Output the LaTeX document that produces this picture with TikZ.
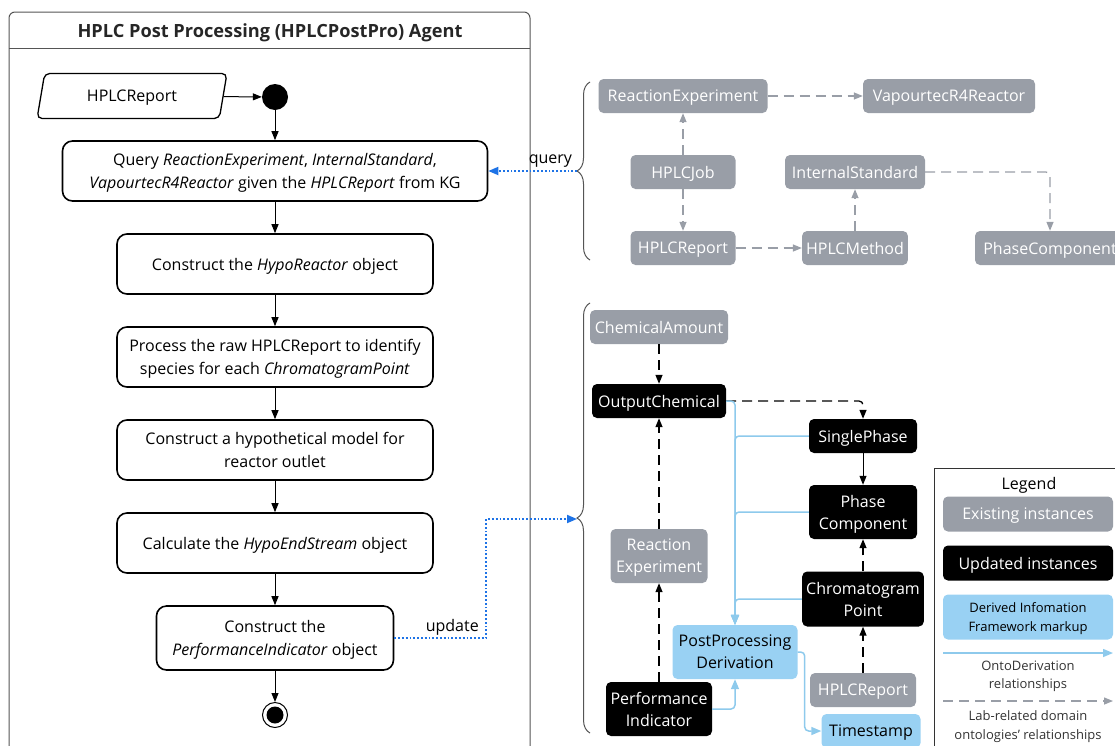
\documentclass[tikz,border=0pt]{standalone}
\usepackage{fontspec}
\setmainfont{Open Sans}
\usetikzlibrary{arrows.meta,positioning,shapes.geometric,decorations.pathreplacing}

\definecolor{instgray}{RGB}{153,158,167}
\definecolor{markblue}{RGB}{153,209,243}
\definecolor{linkblue}{RGB}{142,202,236}
\definecolor{querycol}{RGB}{30,115,230}
\definecolor{lanecol}{RGB}{85,85,85}

\begin{document}
\begin{tikzpicture}
[x=1pt, y=-1pt,
  font=\fontsize{16}{23}\selectfont,
  every node/.append style={text depth=0pt},
  stepbox/.style={draw, line width=1.6pt, rounded corners=10pt, minimum width=316pt,
    minimum height=60pt, align=center, inner sep=0pt},
  existing/.style={fill=instgray, text=white, rounded corners=5pt, minimum height=34pt,
    inner xsep=4pt, inner ysep=0pt, align=center, font=\fontsize{16}{22}\selectfont},
  updated/.style={existing, fill=black},
  derived/.style={existing, fill=markblue, text=black},
  flowarrow/.style={line width=1pt, -{Triangle[length=9pt,width=7pt]}},
  labrel/.style={draw=instgray, line width=1.3pt, dash pattern=on 10pt off 6pt,
    rounded corners=4pt, -{Triangle[length=9pt,width=7pt]}},
  updrel/.style={labrel, draw=black},
  ontorel/.style={draw=linkblue, line width=1.5pt, rounded corners=4pt,
    -{Triangle[length=10pt,width=8pt]}},
  infolink/.style={draw=querycol, line width=1.8pt, dash pattern=on 1.8pt off 2pt,
    -{Triangle[length=10pt,width=8pt]}}]
\useasboundingbox (0,0) rectangle (1115,745);

% agent swimlane
\draw[lanecol, line width=1pt, rounded corners=6pt] (9,780) |- (530,12) -- (530,780);
\draw[lanecol, line width=1pt] (9,48) -- (530,48);
\node[font=\fontsize{18.2}{22}\selectfont\bfseries, text=black!85] (title) at (270,31)
  {HPLC Post Processing (HPLCPostPro) Agent};

\node[draw, line width=1.3pt, trapezium, trapezium left angle=77, trapezium right angle=103,
  trapezium stretches=true, minimum width=190pt, minimum height=45pt, rounded corners=5pt]
  (report) at (132,96) {HPLCReport};
\node[circle, fill=black, minimum size=26pt, inner sep=0pt] (start) at (275,97) {};
\node[stepbox, minimum width=425pt] (query) at (275,171)
  {Query \textit{ReactionExperiment}, \textit{InternalStandard},\\
   \textit{VapourtecR4Reactor} given the \textit{HPLCReport} from KG};
\node[stepbox, below=31.4pt of query] (hypo) {Construct the \textit{HypoReactor} object};
\node[stepbox, below=31.4pt of hypo] (raw) {Process the raw HPLCReport to identify\\
  species for each \textit{ChromatogramPoint}};
\node[stepbox, below=31.4pt of raw] (model) {Construct a hypothetical model for\\ reactor outlet};
\node[stepbox, below=31.4pt of model] (calc) {Calculate the \textit{HypoEndStream} object};
\node[stepbox, minimum width=237pt, minimum height=64pt, below=31.4pt of calc] (perf)
  {Construct the\\ \textit{PerformanceIndicator} object};
\node[circle, draw, line width=1pt, minimum size=25pt, inner sep=0pt] (end) at (275,715) {};
\fill (end.center) circle (8.5pt);

\draw[flowarrow] (report) -- (start);
\draw[flowarrow] (start) -- (query);
\draw[flowarrow] (query) -- (hypo);
\draw[flowarrow] (hypo) -- (raw);
\draw[flowarrow] (raw) -- (model);
\draw[flowarrow] (model) -- (calc);
\draw[flowarrow] (calc) -- (perf);
\draw[flowarrow] (perf) -- (end);

% braces
\draw[lanecol, line width=1pt, decorate, decoration={brace, amplitude=13pt}]
  (590,260) -- (590,82);
\draw[lanecol, line width=1pt, decorate, decoration={brace, amplitude=13pt}]
  (590,733) -- (590,303);
\coordinate (qtip) at (577,171);
\coordinate (utip) at (577,519);

\draw[infolink] (qtip) -- node[above=3pt, pos=0.3] {query} (query.east);
\draw[infolink] (perf.east) -- node[above=2pt, pos=0.63] {update} ++(92,0) |- (utip);

% queried instances
\node[existing, minimum width=169pt] (rexp) at (683,96) {ReactionExperiment};
\node[existing, minimum width=172pt] (vap) at (949,96) {VapourtecR4Reactor};
\node[existing, minimum width=105pt] (job) at (683,172) {HPLCJob};
\node[existing, minimum width=140pt] (istd) at (855,172) {InternalStandard};
\node[existing, minimum width=105pt] (rep) at (683,248) {HPLCReport};
\node[existing, minimum width=105pt] (meth) at (855,248) {HPLCMethod};
\node[existing, minimum width=150pt] (phc) at (1050,248) {PhaseComponent};

\draw[labrel] (rexp) -- (vap);
\draw[labrel] (job) -- (rexp);
\draw[labrel] (job) -- (rep);
\draw[labrel] (rep) -- (meth);
\draw[labrel] (meth) -- (istd);
\draw[labrel] (istd) -| (phc);

% updated instances
\node[existing, minimum width=138pt] (camt) at (659,327) {ChemicalAmount};
\node[updated, minimum width=134pt] (outc) at (659,401) {OutputChemical};
\node[updated, minimum width=108pt] (sph) at (863,436) {SinglePhase};
\node[updated, minimum width=108pt, minimum height=54pt] (pcomp) at (863,512) {Phase\\Component};
\node[existing, minimum width=97pt, minimum height=54pt] (rexp2) at (659,556) {Reaction\\Experiment};
\node[updated, minimum width=121pt, minimum height=55pt] (cpt) at (863,599) {Chromatogram\\Point};
\node[derived, minimum width=125pt, minimum height=54pt] (ppd) at (735,652) {PostProcessing\\Derivation};
\node[updated, minimum width=106pt, minimum height=54pt] (perfi) at (659,709) {Performance\\Indicator};
\node[existing, minimum width=106pt] (rep2) at (863,690) {HPLCReport};
\node[derived, minimum width=99pt] (tstamp) at (871,731) {Timestamp};

\draw[updrel] (camt) -- (outc);
\draw[updrel] (outc.east) -| (sph.north);
\draw[flowarrow] (sph) -- (pcomp);
\draw[updrel] (rexp2) -- (outc);
\draw[updrel] (perfi) -- (rexp2);
\draw[updrel] (cpt) -- (pcomp);
\draw[updrel] (rep2) -- (cpt);

\draw[ontorel] (outc.east) -| (ppd.north);
\draw[ontorel] (sph.west) -| (ppd.north);
\draw[ontorel] (pcomp.west) -| (ppd.north);
\draw[ontorel] (cpt.west) -| (ppd.north);
\draw[ontorel] (perfi.east) -| (ppd.south);
\draw[ontorel] (ppd.east) -- ++(7,0) |- (tstamp);

% legend
\draw[black!80, line width=1pt] (934,780) |- (1140,468);
\node (legtitle) at (1029,483) {Legend};
\node[existing, minimum width=170pt, minimum height=35pt] (legex) at (1028,514) {Existing instances};
\node[updated, minimum width=170pt, minimum height=35pt] (legup) at (1028,563) {Updated instances};
\node[derived, minimum width=170pt, minimum height=45pt, font=\fontsize{13}{19}\selectfont]
  (legder) at (1028,617) {Derived Infomation\\Framework markup};
\coordinate (ontoA) at (943,653);
\coordinate (ontoB) at (1113,653);
\draw[ontorel] (ontoA) -- (ontoB);
\node[align=center, text=black!80, font=\fontsize{13}{18}\selectfont] (legonto) at (1028,675)
  {OntoDerivation\\relationships};
\coordinate (labA) at (943,701);
\coordinate (labB) at (1113,701);
\draw[labrel] (labA) -- (labB);
\node[align=center, text=black!80, font=\fontsize{13}{19}\selectfont] (leglab) at (1028,725)
  {Lab-related domain\\ontologies' relationships};
\end{tikzpicture}
\end{document}
